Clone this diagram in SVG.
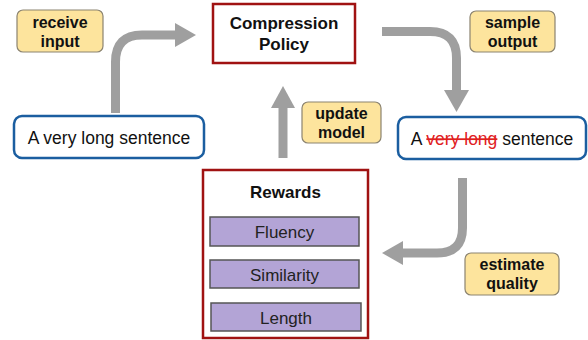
<svg xmlns="http://www.w3.org/2000/svg" width="588" height="340" viewBox="0 0 588 340">
<style>
.lbl{fill:#fde49d;stroke:#8c8470;stroke-width:1.2}
.lt{font-family:"Liberation Sans",Arial,sans-serif;font-weight:bold;font-size:16px;fill:#111;text-anchor:middle}
.red{fill:#fff;stroke:#a01212;stroke-width:2.5}
.blue{fill:#fff;stroke:#1b5ea0;stroke-width:2.5}
.st{font-family:"Liberation Sans",Arial,sans-serif;font-size:17.5px;fill:#111;text-anchor:middle}
.rw{fill:#b3a4d6;stroke:#555;stroke-width:1.5}
.rt{font-family:"Liberation Sans",Arial,sans-serif;font-size:17px;fill:#222;text-anchor:middle}
.sh{fill:none;stroke:#9f9f9f;stroke-width:9}
.hd{fill:#9f9f9f}
</style>
<rect width="588" height="340" fill="#fff"/>
<g id="connectors">
<path class="sh" d="M115.5,113 V62 Q115.5,35 142,35 H176"/>
<polygon class="hd" points="175,23 196,35 175,47"/>
<path class="sh" d="M382,31.5 H430 Q456.5,31.5 456.5,58 V91"/>
<polygon class="hd" points="444,90 456.5,112 469,90"/>
<path class="sh" d="M462.5,178 V228 Q462.5,253 437,253 H402"/>
<polygon class="hd" points="403,241 382,253 403,265"/>
<path class="sh" d="M283,158 V107"/>
<polygon class="hd" points="271,108 283,86 295,108"/>
</g>
<g id="receive-input">
<rect class="lbl" x="17" y="10" width="86" height="42" rx="6"/>
<text class="lt" x="60" y="28">receive</text>
<text class="lt" x="60" y="47">input</text>
</g>
<g id="compression-policy">
<rect class="red" x="213" y="4" width="142" height="59"/>
<text class="lt" x="284" y="29" style="font-size:17px">Compression</text>
<text class="lt" x="284" y="50" style="font-size:17px">Policy</text>
</g>
<g id="sample-output">
<rect class="lbl" x="470" y="11" width="85" height="41" rx="6"/>
<text class="lt" x="512.5" y="28">sample</text>
<text class="lt" x="512.5" y="47">output</text>
</g>
<g id="input-sentence">
<rect class="blue" x="14" y="116" width="190" height="42" rx="8"/>
<text class="st" x="109" y="143.5">A very long sentence</text>
</g>
<g id="update-model">
<rect class="lbl" x="302" y="102" width="79" height="41" rx="6"/>
<text class="lt" x="341.5" y="119">update</text>
<text class="lt" x="341.5" y="138">model</text>
</g>
<g id="output-sentence">
<rect class="blue" x="398" y="117" width="188" height="42" rx="8"/>
<text class="st" x="492" y="144.5">A <tspan fill="#e0201e" text-decoration="line-through">very long</tspan> sentence</text>
</g>
<g id="rewards">
<rect class="red" x="203" y="170" width="165" height="168"/>
<text class="lt" x="285.5" y="198" style="font-size:17px">Rewards</text>
<rect class="rw" x="210" y="217" width="149" height="29"/>
<text class="rt" x="284.5" y="237.5">Fluency</text>
<rect class="rw" x="210" y="260" width="149" height="28"/>
<text class="rt" x="284.5" y="280.5">Similarity</text>
<rect class="rw" x="211" y="303" width="150" height="28"/>
<text class="rt" x="286" y="323.5">Length</text>
</g>
<g id="estimate-quality">
<rect class="lbl" x="465" y="253" width="94" height="42" rx="6"/>
<text class="lt" x="512" y="270">estimate</text>
<text class="lt" x="512" y="289">quality</text>
</g>
</svg>
